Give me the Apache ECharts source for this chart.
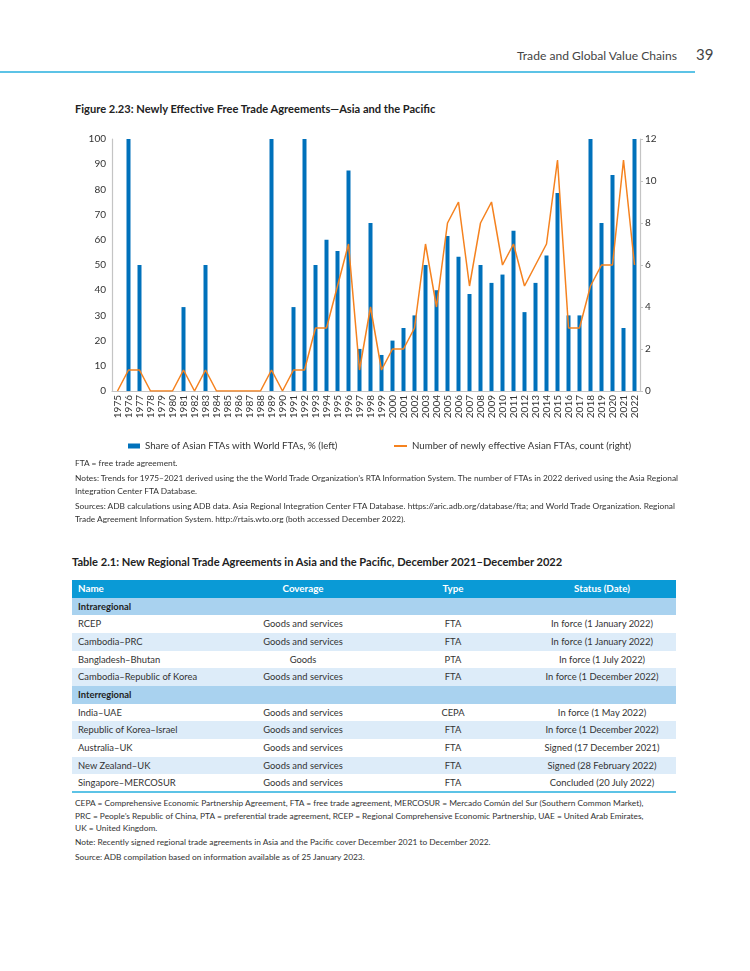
<!DOCTYPE html>
<html>
<head>
<meta charset="utf-8">
<script src="https://cdn.jsdelivr.net/npm/echarts@6/dist/echarts.min.js"></script>
<style>
  html, body { margin:0; padding:0; background:#fff; }
  body { width:750px; height:971px; position:relative; overflow:hidden; font-family:Lato, "Open Sans", sans-serif; color:#333; }
  .abs { position:absolute; }
  #chart { position:absolute; left:0; top:0; width:750px; height:460px; }
  .note { font-size:8.35px; line-height:12.5px; color:#333; left:75px; white-space:nowrap; }
  table { border-collapse:collapse; position:absolute; left:72px; top:580px; width:604px; font-size:9.4px; color:#333; }
  td { height:17.67px; padding:0; line-height:17.67px; white-space:nowrap; }
  tr.hd td { background:#0a9ad6; color:#fff; font-weight:bold; font-size:9.8px; }
  tr.sub td { background:#a9d2ef; font-weight:bold; color:#222; }
  tr.lt td { background:#ddecf9; }
  td.c1 { padding-left:6px; width:150px; }
  td.c2 { text-align:center; width:150px; }
  td.c3 { text-align:center; width:150px; }
  td.c4 { text-align:center; }
</style>
</head>
<body>
<div class="abs" style="left:517px; top:48px; font-size:12.1px; color:#444;">Trade and Global Value Chains</div>
<div class="abs" style="left:696px; top:45px; font-size:15px; color:#444;">39</div>
<div class="abs" style="left:0; top:71px; width:695px; height:2px; background:#5cc3e6;"></div>
<div class="abs" style="left:75px; top:102px; font-size:11.1px; font-weight:bold; color:#222;">Figure 2.23: Newly Effective Free Trade Agreements—Asia and the Pacific</div>

<div id="chart"></div>

<div class="abs note" style="top:457px;">FTA = free trade agreement.</div>
<div class="abs note" style="top:472px;">Notes: Trends for 1975–2021 derived using the the World Trade Organization’s RTA Information System. The number of FTAs in 2022 derived using the Asia Regional<br>Integration Center FTA Database.</div>
<div class="abs note" style="top:500px;">Sources: ADB calculations using ADB data. Asia Regional Integration Center FTA Database. https://aric.adb.org/database/fta; and World Trade Organization. Regional<br>Trade Agreement Information System. http://rtais.wto.org (both accessed December 2022).</div>

<div class="abs" style="left:72px; top:555px; font-size:11.1px; font-weight:bold; color:#222;">Table 2.1: New Regional Trade Agreements in Asia and the Pacific, December 2021–December 2022</div>

<table id="tbl"></table>
<div class="abs" style="left:72px; top:791px; width:604px; height:2px; background:#5cc3e6;"></div>

<div class="abs note" style="top:797px;">CEPA = Comprehensive Economic Partnership Agreement, FTA = free trade agreement, MERCOSUR = Mercado Común del Sur (Southern Common Market),<br>PRC = People’s Republic of China, PTA = preferential trade agreement, RCEP = Regional Comprehensive Economic Partnership, UAE = United Arab Emirates,<br>UK = United Kingdom.</div>
<div class="abs note" style="top:836px;">Note: Recently signed regional trade agreements in Asia and the Pacific cover December 2021 to December 2022.</div>
<div class="abs note" style="top:851px;">Source: ADB compilation based on information available as of 25 January 2023.</div>

<script>
const years = ['1975','1976','1977','1978','1979','1980','1981','1982','1983','1984','1985','1986','1987','1988','1989','1990','1991','1992','1993','1994','1995','1996','1997','1998','1999','2000','2001','2002','2003','2004','2005','2006','2007','2008','2009','2010','2011','2012','2013','2014','2015','2016','2017','2018','2019','2020','2021','2022'];
const shareAsianFTAs = [0,100,50,0,0,0,33.3,0,50,0,0,0,0,0,100,0,33.3,100,50,60,55.6,87.5,16.7,66.7,14.3,20,25,30,50,40,61.5,53.3,38.5,50,42.9,46.2,63.6,31.3,42.9,53.8,78.6,30,30,100,66.7,85.7,25,100];
const newFTAsCount = [0,1,1,0,0,0,1,0,1,0,0,0,0,0,1,0,1,1,3,3,5,7,1,4,1,2,2,3,7,4,8,9,5,8,9,6,7,5,6,7,11,3,3,5,6,6,11,6];
const leftTicks = [0,10,20,30,40,50,60,70,80,90,100];
const rightTicks = [0,2,4,6,8,10,12];

const tableHeader = ['Name','Coverage','Type','Status (Date)'];
const tableRows = [
  ['sub','Intraregional'],
  ['RCEP','Goods and services','FTA','In force (1 January 2022)'],
  ['Cambodia–PRC','Goods and services','FTA','In force (1 January 2022)'],
  ['Bangladesh–Bhutan','Goods','PTA','In force (1 July 2022)'],
  ['Cambodia–Republic of Korea','Goods and services','FTA','In force (1 December 2022)'],
  ['sub','Interregional'],
  ['India–UAE','Goods and services','CEPA','In force (1 May 2022)'],
  ['Republic of Korea–Israel','Goods and services','FTA','In force (1 December 2022)'],
  ['Australia–UK','Goods and services','FTA','Signed (17 December 2021)'],
  ['New Zealand–UK','Goods and services','FTA','Signed (28 February 2022)'],
  ['Singapore–MERCOSUR','Goods and services','FTA','Concluded (20 July 2022)']
];

// build table
const tbl = document.getElementById('tbl');
let html = '<tr class="hd">' + tableHeader.map((h,i)=>'<td class="c'+(i+1)+'">'+h+'</td>').join('') + '</tr>';
let k = 0;
tableRows.forEach(r => {
  if (r[0] === 'sub') { html += '<tr class="sub"><td class="c1" colspan="4">'+r[1]+'</td></tr>'; k = 0; }
  else { html += '<tr class="'+(k%2===1?'lt':'')+'">' + r.map((c,i)=>'<td class="c'+(i+1)+'">'+c+'</td>').join('') + '</tr>'; k++; }
});
tbl.innerHTML = html;

const chart = echarts.init(document.getElementById('chart'), null, {renderer:'canvas'});
const ff = 'Lato, "Open Sans", sans-serif';
chart.setOption({
  animation:false,
  textStyle:{fontFamily:ff, color:'#333'},
  grid:{left:112, top:139, width:528, height:252, containLabel:false},
  legend:[
    {left:123, top:436, itemWidth:12, itemHeight:5, icon:'rect', data:['Share of Asian FTAs with World FTAs, % (left)'], textStyle:{fontSize:9.7, color:'#333', fontFamily:ff}},
    {left:389, top:436, itemWidth:13, itemHeight:2, icon:'rect', data:['Number of newly effective Asian FTAs, count (right)'], textStyle:{fontSize:9.7, color:'#333', fontFamily:ff}}
  ],
  xAxis:{type:'category', data:years, boundaryGap:true,
    axisLine:{lineStyle:{color:'#c4c4c4', width:1.2}}, axisTick:{show:false},
    axisLabel:{rotate:90, interval:0, fontSize:10, color:'#333', margin:4, fontFamily:ff}},
  yAxis:[
    {type:'value', min:leftTicks[0], max:leftTicks[leftTicks.length-1], interval:10, position:'left',
      axisLine:{show:true, lineStyle:{color:'#c4c4c4', width:1.2}}, axisTick:{show:false}, splitLine:{show:false},
      axisLabel:{fontSize:10, color:'#333', margin:6, fontFamily:ff}},
    {type:'value', min:rightTicks[0], max:rightTicks[rightTicks.length-1], interval:2, position:'right',
      axisLine:{show:true, lineStyle:{color:'#c4c4c4', width:1.2}}, axisTick:{show:true, length:3, lineStyle:{color:'#c4c4c4'}}, splitLine:{show:false},
      axisLabel:{fontSize:10, color:'#333', margin:5, fontFamily:ff}}
  ],
  series:[
    {name:'Share of Asian FTAs with World FTAs, % (left)', type:'bar', yAxisIndex:0, data:shareAsianFTAs, barWidth:4, itemStyle:{color:'#0071bb'}},
    {name:'Number of newly effective Asian FTAs, count (right)', type:'line', yAxisIndex:1, data:newFTAsCount, symbol:'none', showSymbol:false, lineStyle:{color:'#f5821f', width:1.5}, itemStyle:{color:'#f5821f'}}
  ]
});
</script>
</body>
</html>
